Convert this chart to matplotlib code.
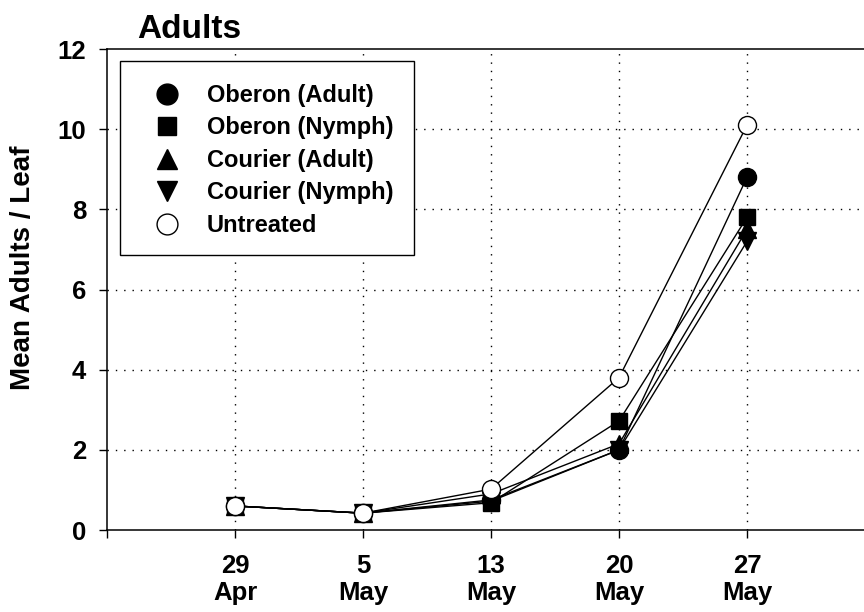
import matplotlib
matplotlib.use('Agg')
import matplotlib.pyplot as plt
from matplotlib.lines import Line2D
from matplotlib.patches import Rectangle

plt.rcParams['font.family'] = ['Liberation Sans', 'DejaVu Sans']
plt.rcParams['font.weight'] = 'bold'

# sampling dates and mean adults per leaf for each treatment
dates = ['29\nApr', '5\nMay', '13\nMay', '20\nMay', '27\nMay']
oberon_adult = [0.6, 0.42, 0.75, 2.0, 8.8]
oberon_nymph = [0.6, 0.42, 0.68, 2.72, 7.8]
courier_adult = [0.6, 0.42, 0.9, 2.15, 7.5]
courier_nymph = [0.6, 0.42, 0.72, 2.0, 7.2]
untreated = [0.6, 0.42, 1.02, 3.8, 10.1]

x = list(range(1, len(dates) + 1))

W, H = 864, 612
fig = plt.figure(figsize=(8.64, 6.12), dpi=100)
ax = fig.add_axes([107 / W, 1 - 530 / H, 768 / W, 481 / H])

# grid first so the data sits on top
for xv in x:
    ax.axvline(xv, color='black', lw=1, ls=(0, (1, 5)), zorder=0)
for yv in [2, 4, 6, 8, 10]:
    ax.axhline(yv, color='black', lw=1, ls=(0, (1, 5)), zorder=0)

series = [
    ('Courier (Nymph)', courier_nymph, 'v', 'black'),
    ('Courier (Adult)', courier_adult, '^', 'black'),
    ('Oberon (Nymph)', oberon_nymph, 's', 'black'),
    ('Oberon (Adult)', oberon_adult, 'o', 'black'),
    ('Untreated', untreated, 'o', 'white'),
]
for label, vals, mk, fc in series:
    ax.plot(x, vals, color='black', lw=1, marker=mk,
            markersize=12 if mk == 's' else 13,
            markerfacecolor=fc, markeredgecolor='black', markeredgewidth=1,
            zorder=3)

ax.set_xlim(0, 6)
ax.set_ylim(0, 12)
ax.set_xticks([0] + x + [6])
ax.set_xticklabels([''] + dates + [''])
ax.set_yticks([0, 2, 4, 6, 8, 10, 12])
ax.tick_params(axis='both', direction='out', length=6, width=1, labelsize=18.5)
ax.tick_params(axis='x', pad=11)
ax.tick_params(axis='y', pad=9)
for s in ax.spines.values():
    s.set_linewidth(1.1)

ax.set_ylabel('Mean Adults / Leaf', fontsize=20, fontweight='bold')
ax.yaxis.set_label_coords(-0.0925, 0.545)

fig.text(137 / W, 1 - 38 / H, 'Adults', fontsize=24, fontweight='bold',
         va='baseline', ha='left')

# legend: box drawn separately, markers only, in the original order
fig.patches.append(Rectangle((120 / W, 1 - 255 / H), 294 / W, 194 / H,
                             transform=fig.transFigure, facecolor='white',
                             edgecolor='black', lw=1, zorder=4))
handles = [
    Line2D([], [], ls='none', marker='o', markersize=15, mfc='black', mec='black'),
    Line2D([], [], ls='none', marker='s', markersize=13, mfc='black', mec='black'),
    Line2D([], [], ls='none', marker='^', markersize=15, mfc='black', mec='black'),
    Line2D([], [], ls='none', marker='v', markersize=15, mfc='black', mec='black'),
    Line2D([], [], ls='none', marker='o', markersize=15, mfc='white', mec='black'),
]
labels = ['Oberon (Adult)', 'Oberon (Nymph)', 'Courier (Adult)',
          'Courier (Nymph)', 'Untreated']
leg = fig.legend(handles, labels, loc='upper left',
                 bbox_to_anchor=(155 / W, 1 - 84 / H), borderaxespad=0,
                 frameon=False, prop={'size': 17, 'weight': 'bold'},
                 labelspacing=0.4, handletextpad=1.2, borderpad=0,
                 handlelength=1.0)
leg.set_zorder(5)

fig.savefig('out.png', dpi=100)
